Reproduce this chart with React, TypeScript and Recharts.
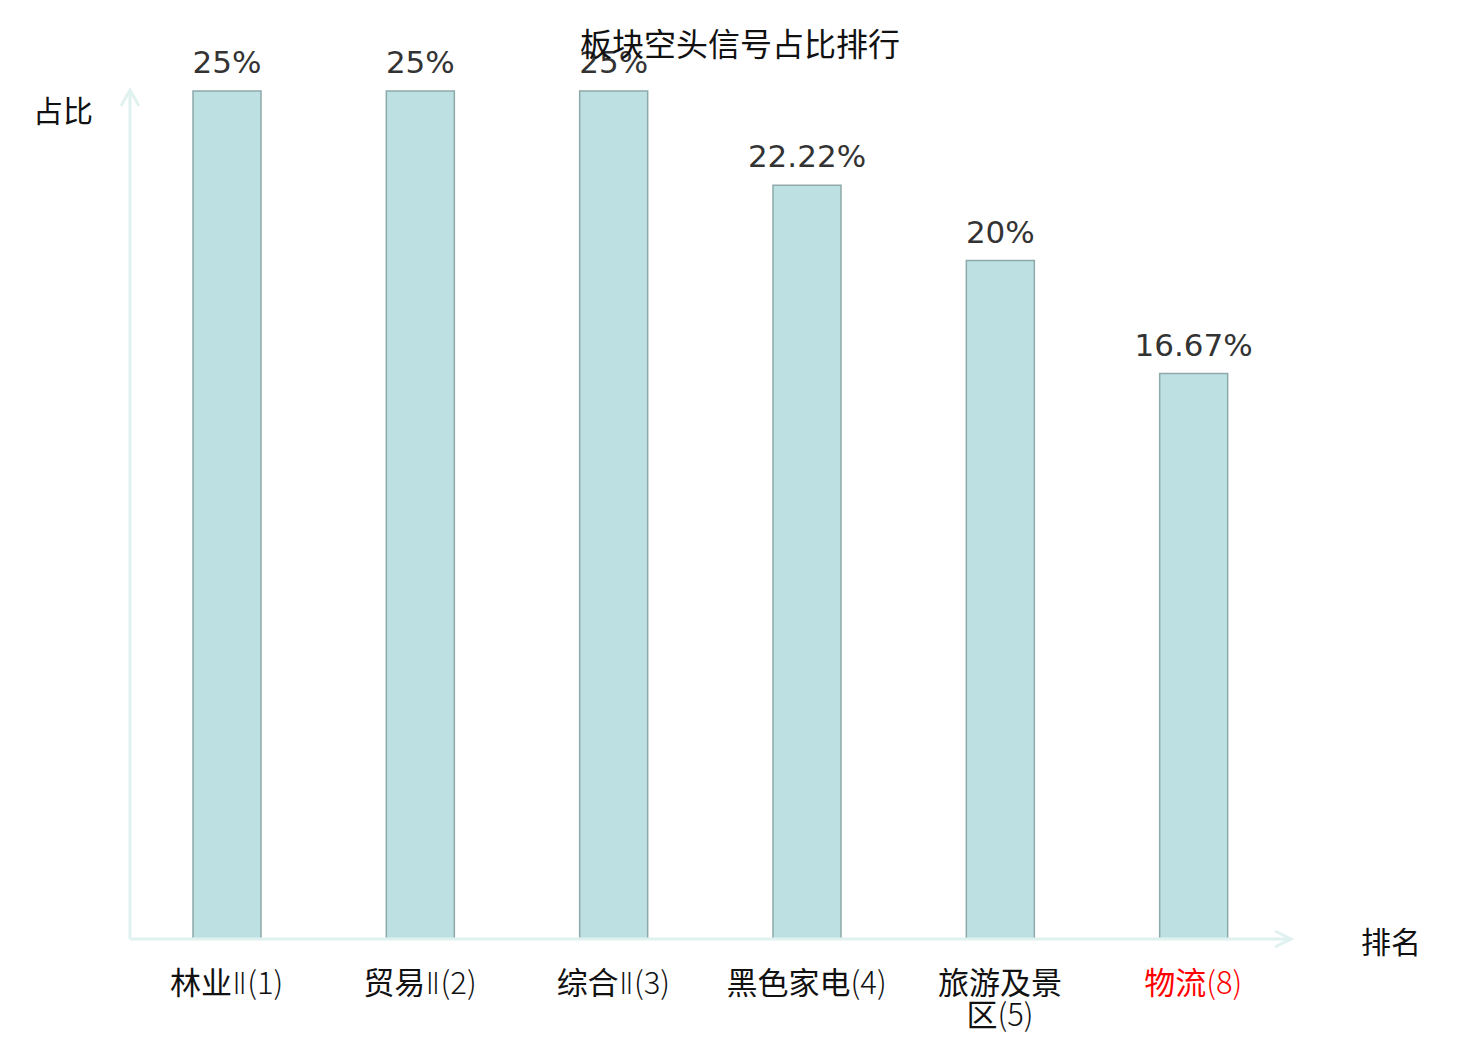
import React from 'react'
import { BarChart, Bar, XAxis, YAxis, LabelList } from 'recharts'

const categories = ['林业Ⅱ(1)', '贸易Ⅱ(2)', '综合Ⅱ(3)', '黑色家电(4)', '旅游及景区(5)', '物流(8)']
const ratios = [25, 25, 25, 22.22, 20, 16.67]
const highlighted = ['物流(8)']

const data = categories.map((name, i) => ({ name, ratio: ratios[i] }))

const AXIS_COLOR = '#e0f2f0'
const CJK = '"Noto Sans CJK SC", "Noto Sans", sans-serif'

function wrapLabel(label: string): string[] {
  if (label.length <= 7) return [label]
  return [label.slice(0, 4), label.slice(4)]
}

// "林业Ⅱ(1)" -> ['林业', 'Ⅱ', '(1)']
function splitRank(line: string): [string, string, string] {
  const p = line.indexOf('(')
  const head = p < 0 ? line : line.slice(0, p)
  const rank = p < 0 ? '' : line.slice(p)
  if (head.endsWith('Ⅱ')) return [head.slice(0, -1), 'Ⅱ', rank]
  return [head, '', rank]
}

const CategoryTick = ({ x, y, payload }: any) => {
  const lines = wrapLabel(payload.value)
  const color = highlighted.includes(payload.value) ? '#ff0000' : '#111'
  return (
    <g>
      {lines.map((line, i) => {
        const [head, roman, rank] = splitRank(line)
        return (
          <text
            key={i}
            x={x}
            y={y + 47 + i * 32}
            textAnchor="middle"
            fontSize={31}
            fontFamily={CJK}
            fill={color}
          >
            {head}
            {roman && <tspan fontFamily='"DejaVu Sans", sans-serif' fontWeight={300} fontSize={31}>{roman}</tspan>}
            {rank && <tspan fontWeight={300}>{rank}</tspan>}
          </text>
        )
      })}
    </g>
  )
}

const YArrow = ({ viewBox }: any) => {
  const { x, y } = viewBox
  const ax = x + viewBox.width
  return (
    <g>
      <polyline
        points={`${ax - 9},${y + 15} ${ax},${y - 1} ${ax + 9},${y + 15}`}
        fill="none"
        stroke={AXIS_COLOR}
        strokeWidth={3}
      />
      <text x={63} y={y + 18} textAnchor="middle" dominantBaseline="central" fontSize={30} fontFamily={CJK} fill="#111">
        占比
      </text>
    </g>
  )
}

const XArrow = ({ viewBox }: any) => {
  const { x, y, width } = viewBox
  const end = x + width
  return (
    <g>
      <polyline
        points={`${end - 15},${y - 8} ${end + 1},${y} ${end - 15},${y + 8}`}
        fill="none"
        stroke={AXIS_COLOR}
        strokeWidth={3}
      />
      <text x={end + 101} y={y + 1} textAnchor="middle" dominantBaseline="central" fontSize={30} fontFamily={CJK} fill="#111">
        排名
      </text>
    </g>
  )
}

export default function App() {
  return (
    <div style={{ position: 'absolute', left: 0, top: 0, width: 1480, height: 1040, background: '#fff' }}>
      <BarChart width={1480} height={1040} data={data} margin={{ top: 91, right: 190, bottom: 41, left: 129 }}>
        <XAxis
          dataKey="name"
          height={60}
          interval={0}
          tickLine={false}
          axisLine={{ stroke: AXIS_COLOR, strokeWidth: 3 }}
          tick={<CategoryTick />}
          label={{ content: XArrow }}
        />
        <YAxis
          width={1}
          domain={[0, 25]}
          tick={false}
          tickLine={false}
          axisLine={{ stroke: AXIS_COLOR, strokeWidth: 3 }}
          label={{ content: YArrow }}
        />
        <Bar dataKey="ratio" barSize={68} fill="#bde0e3" stroke="#8ea9aa" strokeWidth={1.5} isAnimationActive={false}>
          <LabelList
            dataKey="ratio"
            position="top"
            offset={18}
            formatter={(v: any) => `${v}%`}
            fontSize={31}
            fontFamily='"DejaVu Sans", sans-serif'
            fill="#333"
          />
        </Bar>
      </BarChart>
      <div
        style={{
          position: 'absolute',
          left: 0,
          top: 25,
          width: 1480,
          textAlign: 'center',
          fontFamily: CJK,
          fontSize: 32,
          lineHeight: '34px',
          color: '#111',
          pointerEvents: 'none',
        }}
      >
        板块空头信号占比排行
      </div>
    </div>
  )
}
